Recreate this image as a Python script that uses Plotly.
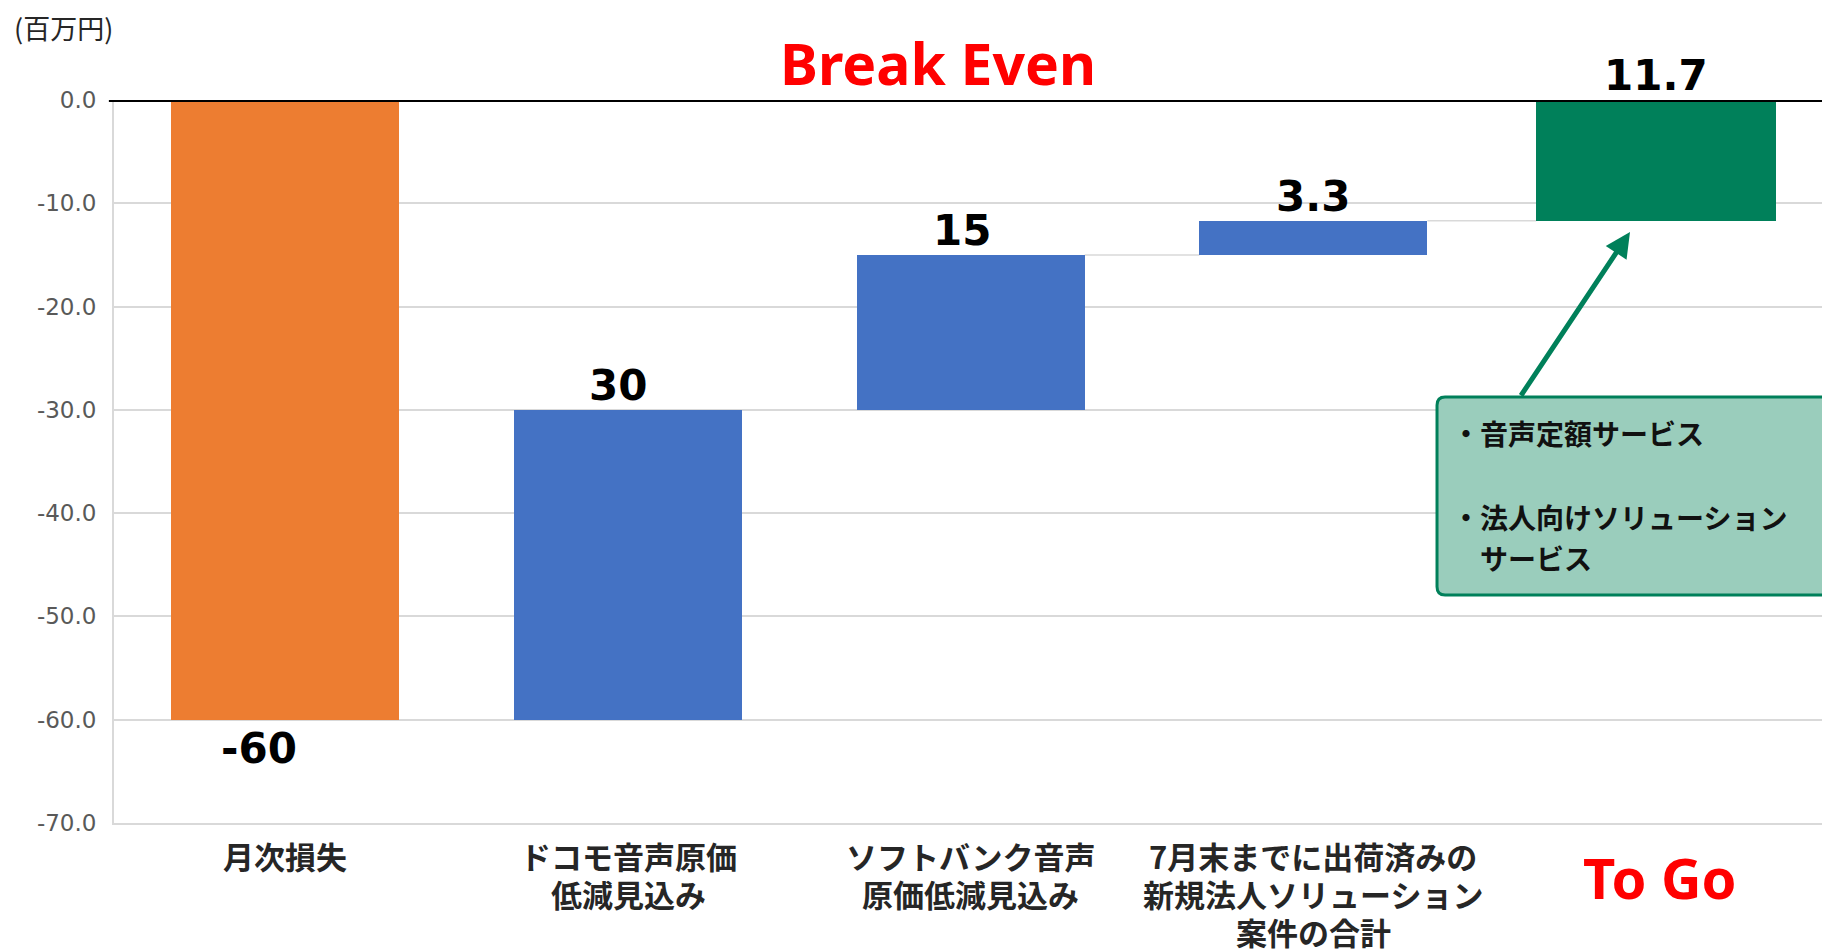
import plotly.graph_objects as go

# ---------------- data ----------------
categories = [
    "月次損失",
    "ドコモ音声原価<br>低減見込み",
    "ソフトバンク音声<br>原価低減見込み",
    "7月末までに出荷済みの<br>新規法人ソリューション<br>案件の合計",
    "To Go",
]
deltas = [-60, 30, 15, 3.3, 11.7]
value_labels = ["-60", "30", "15", "3.3", "11.7"]
y_ticks = [0, -10, -20, -30, -40, -50, -60, -70]
y_tick_labels = [f"{v:.1f}" for v in y_ticks]
unit_label = "(百万円)"
title_text = "Break Even"
box_lines = ["・音声定額サービス", "・法人向けソリューション", "　サービス"]

# ---------------- styles ----------------
ORANGE = "#ED7D31"
BLUE = "#4472C4"
GREEN = "#00805A"
BOX_FILL = "#9ACDBC"
GRID = "#D9D9D9"
bar_colors = [ORANGE, BLUE, BLUE, BLUE, GREEN]
bar_widths = [0.665, 0.665, 0.665, 0.665, 0.70]
label_xshift = [-26, -10, -9, 0, 0]
JP = "Noto Sans CJK JP"

# cumulative bases
bases = []
running = 0.0
for d in deltas:
    bases.append(running)
    running += d

xs = list(range(len(categories)))

fig = go.Figure()
fig.add_trace(go.Bar(
    x=xs, y=deltas, base=bases,
    width=bar_widths,
    marker=dict(color=bar_colors, line=dict(width=0)),
    hoverinfo="skip",
))

shapes = []
# connectors
for i in range(len(deltas) - 1):
    level = bases[i] + deltas[i]
    shapes.append(dict(type="line", xref="x", yref="y",
                       x0=i + bar_widths[i] / 2, x1=i + 1 - bar_widths[i + 1] / 2,
                       y0=level, y1=level,
                       line=dict(color=GRID, width=1.5), layer="below"))
# break-even line
shapes.append(dict(type="line", xref="paper", yref="y", x0=-0.003, x1=1, y0=0, y1=0,
                   line=dict(color="black", width=4), layer="above"))
# rounded text box (extends past right edge)
bx0, bx1 = 0.7746, 1.06
by0, by1 = -28.75, -47.92
rx, ry = 0.0047, 0.8
path = (f"M {bx0+rx},{by0} L {bx1},{by0} L {bx1},{by1} L {bx0+rx},{by1} "
        f"Q {bx0},{by1} {bx0},{by1+ry} L {bx0},{by0-ry} Q {bx0},{by0} {bx0+rx},{by0} Z")
shapes.append(dict(type="path", xref="paper", yref="y", path=path,
                   fillcolor=BOX_FILL, line=dict(color=GREEN, width=3), layer="above"))

annotations = []
# value labels
for i, d in enumerate(deltas):
    top = bases[i] + d
    annotations.append(dict(x=i, y=top, xref="x", yref="y", text=value_labels[i],
                            showarrow=False, yanchor="bottom" if d >= 0 else "top",
                            xshift=label_xshift[i], yshift=-2,
                            font=dict(family="DejaVu Sans", size=42, color="black", weight="bold")))

# category labels (one annotation per line, tight line spacing like the reference)
for i, cat in enumerate(categories[:4]):
    for k, line in enumerate(cat.split("<br>")):
        annotations.append(dict(x=i, y=0, xref="x", yref="paper", yshift=-(32 + 38 * k),
                                text=line, showarrow=False, yanchor="middle",
                                font=dict(family=JP, size=31, color="#262626", weight="bold")))

# Break Even title
annotations.append(dict(x=0.4824, y=1, xref="paper", yref="paper", yshift=37,
                        text=title_text, showarrow=False, yanchor="middle",
                        font=dict(family="Noto Sans", size=57, color="#FF0000", weight="bold")))
# To Go category label
annotations.append(dict(x=4, y=0, xref="x", yref="paper", xshift=4, yshift=-54,
                        text=categories[4], showarrow=False, yanchor="middle",
                        font=dict(family="Noto Sans", size=56, color="#FF0000", weight="bold")))
# unit label
annotations.append(dict(x=-0.0600, y=1, xref="paper", yref="paper", yshift=73,
                        text=unit_label, showarrow=False, xanchor="left", yanchor="middle",
                        font=dict(family=JP, size=27, color="#262626")))
# arrow
annotations.append(dict(x=0.8876, y=-12.78, xref="paper", yref="y",
                        ax=-110, ay=165, axref="pixel", ayref="pixel",
                        text="", showarrow=True, arrowhead=2, arrowsize=1.0,
                        arrowwidth=5, arrowcolor=GREEN, standoff=0))
# box text
box_y = [-32.24, -40.37, -44.34]
for line, yy in zip(box_lines, box_y):
    annotations.append(dict(x=0.7822, y=yy, xref="paper", yref="y", text=line,
                            showarrow=False, xanchor="left", yanchor="middle",
                            font=dict(family=JP, size=28, color="#111111", weight="bold")))

fig.update_layout(
    width=1822, height=949,
    margin=dict(l=114, r=0, t=100, b=126, autoexpand=False),
    paper_bgcolor="white", plot_bgcolor="white",
    showlegend=False,
    bargap=0,
    shapes=shapes,
    annotations=annotations,
    xaxis=dict(range=[-0.5, 4.484], tickvals=xs, showticklabels=False, automargin=False,
               showgrid=False, zeroline=False, showline=True, linecolor=GRID, linewidth=2,
               ticks=""),
    yaxis=dict(range=[-70, 0], tickvals=y_ticks, ticktext=y_tick_labels, automargin=False,
               showgrid=True, gridcolor=GRID, gridwidth=1.5, zeroline=False,
               showline=True, linecolor=GRID, linewidth=2, ticks="", ticklabelstandoff=11,
               tickfont=dict(family="DejaVu Sans", size=23, color="#595959")),
)

fig.write_html("out.html", config={"displayModeBar": False},
               post_script="document.body.style.margin='0';document.body.style.overflow='hidden';")
